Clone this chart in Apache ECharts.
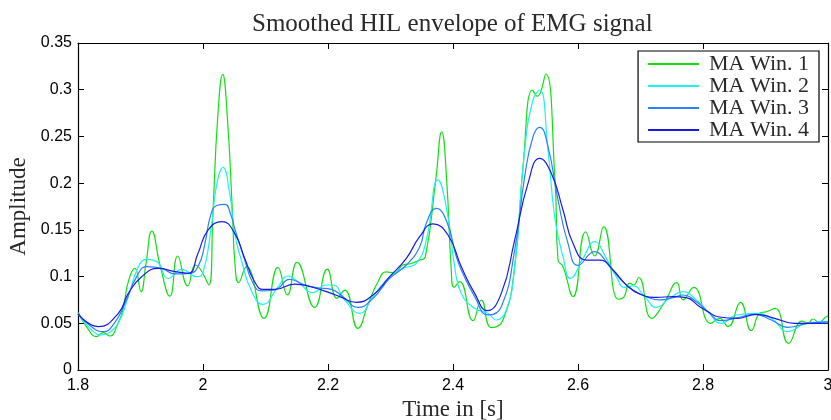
<!DOCTYPE html>
<html>
<head>
<meta charset="utf-8">
<script src="https://cdn.jsdelivr.net/npm/echarts@6/dist/echarts.min.js"></script>
<style>
html,body{margin:0;padding:0;background:#fff;}
#chart{width:831px;height:420px;}
</style>
</head>
<body>
<div id="chart"></div>
<script>
// ---- data ----
const seriesNames = ['MA Win. 1', 'MA Win. 2', 'MA Win. 3', 'MA Win. 4'];
const xTicks = [1.8, 2, 2.2, 2.4, 2.6, 2.8, 3];
const yTicks = [0, 0.05, 0.1, 0.15, 0.2, 0.25, 0.3, 0.35];

const t1 = [1.800,1.814,1.830,1.8405,1.851,1.864,1.872,1.881,1.891,1.9008,1.909,1.918,1.932,1.947,1.9595,1.9755,1.988,2.0095,2.016,2.0235,2.0315,2.039,2.047,2.051,2.057,2.0694,2.0976,2.12,2.135,2.1504,2.1787,2.1988,2.2144,2.2267,2.248,2.264,2.28,2.2933,2.306,2.32,2.333,2.3467,2.3557,2.3723,2.3819,2.3899,2.397,2.4016,2.4107,2.432,2.4453,2.4613,2.48,2.4987,2.512,2.527,2.535,2.5483,2.5632,2.568,2.576,2.592,2.6123,2.6267,2.641,2.664,2.672,2.683,2.689,2.697,2.718,2.738,2.758,2.768,2.785,2.8123,2.8267,2.84,2.86,2.8773,2.8907,2.9013,2.9157,2.937,2.9584,2.968,2.976,2.985,2.997,3.0];
const v1 = [0.062,0.046,0.0357,0.040,0.0364,0.050,0.065,0.096,0.1088,0.0838,0.115,0.1488,0.110,0.079,0.122,0.090,0.1124,0.091,0.170,0.270,0.3165,0.270,0.170,0.115,0.0935,0.1106,0.0553,0.1099,0.0803,0.1152,0.067,0.108,0.0767,0.0856,0.0446,0.070,0.0945,0.105,0.104,0.1124,0.114,0.1177,0.121,0.203,0.255,0.203,0.110,0.0885,0.0946,0.0528,0.0749,0.0453,0.0535,0.1106,0.2176,0.2997,0.293,0.3168,0.203,0.1177,0.1106,0.0785,0.148,0.122,0.1534,0.0757,0.077,0.093,0.091,0.099,0.0553,0.072,0.0935,0.075,0.0885,0.050,0.0553,0.0464,0.0724,0.0421,0.0607,0.0624,0.066,0.0285,0.0524,0.0506,0.0546,0.051,0.057,0.058];

const t2 = [1.800,1.820,1.838,1.850,1.8645,1.8805,1.8965,1.910,1.926,1.9445,1.966,1.990,2.000,2.0133,2.0213,2.032,2.0427,2.0507,2.0613,2.077,2.096,2.120,2.136,2.152,2.176,2.1973,2.208,2.2267,2.2507,2.272,2.2987,2.320,2.3413,2.3573,2.376,2.391,2.4027,2.4133,2.4347,2.456,2.4693,2.4853,2.4987,2.5147,2.528,2.5387,2.552,2.5627,2.576,2.5883,2.608,2.6267,2.6453,2.6613,2.6747,2.688,2.7067,2.7253,2.7467,2.768,2.7893,2.808,2.8293,2.8533,2.8853,2.9093,2.936,2.9627,3.0];
const v2 = [0.060,0.044,0.0375,0.040,0.050,0.0785,0.1106,0.1184,0.116,0.098,0.1077,0.0999,0.104,0.1534,0.196,0.217,0.189,0.146,0.1177,0.0856,0.0703,0.089,0.1006,0.0945,0.0828,0.091,0.091,0.0749,0.0607,0.0785,0.0999,0.1088,0.1142,0.139,0.2034,0.168,0.1106,0.082,0.066,0.0607,0.0535,0.0642,0.1106,0.2355,0.289,0.2997,0.2355,0.164,0.1213,0.098,0.1195,0.1373,0.1195,0.0999,0.0885,0.090,0.0785,0.067,0.0767,0.0838,0.075,0.0624,0.050,0.0589,0.0607,0.0553,0.041,0.0492,0.052];

const t3 = [1.800,1.820,1.8405,1.858,1.8752,1.8939,1.9099,1.9339,1.9552,1.979,1.993,2.003,2.012,2.022,2.035,2.045,2.0507,2.0667,2.080,2.0933,2.1147,2.1387,2.1627,2.184,2.2053,2.224,2.248,2.272,2.2987,2.3253,2.3467,2.3573,2.3733,2.390,2.405,2.4133,2.4347,2.456,2.4773,2.4987,2.5147,2.528,2.5387,2.552,2.568,2.584,2.600,2.6267,2.6453,2.6667,2.688,2.7093,2.7307,2.752,2.768,2.7893,2.808,2.8293,2.8613,2.8827,2.9093,2.936,2.968,3.0];
const v3 = [0.060,0.047,0.041,0.050,0.0714,0.0999,0.1106,0.1088,0.1028,0.1035,0.112,0.135,0.165,0.176,0.1773,0.165,0.1516,0.1177,0.0928,0.0846,0.0856,0.097,0.091,0.088,0.0863,0.0785,0.067,0.0767,0.098,0.1124,0.132,0.157,0.173,0.159,0.122,0.107,0.0785,0.0589,0.0678,0.1284,0.207,0.2497,0.2597,0.239,0.182,0.1356,0.112,0.1266,0.116,0.098,0.0856,0.0785,0.075,0.0774,0.0803,0.0731,0.0624,0.0528,0.057,0.0596,0.0535,0.0457,0.050,0.0515];

const t4 = [1.800,1.8325,1.8645,1.8805,1.9019,1.9285,1.9552,1.9765,1.992,2.008,2.0304,2.0507,2.0667,2.0827,2.096,2.1147,2.1467,2.1733,2.2053,2.2187,2.2453,2.272,2.2987,2.3253,2.3467,2.368,2.392,2.4133,2.4347,2.4549,2.4773,2.4987,2.520,2.5387,2.5573,2.576,2.592,2.6133,2.6347,2.656,2.6773,2.6987,2.7253,2.752,2.7733,2.7947,2.808,2.824,2.856,2.8853,2.9147,2.9467,3.0];
const v4 = [0.060,0.0464,0.0607,0.082,0.0999,0.1088,0.1053,0.1035,0.125,0.1498,0.1588,0.1463,0.1195,0.0945,0.0863,0.0863,0.092,0.089,0.082,0.0785,0.0724,0.0803,0.0999,0.1195,0.1427,0.1563,0.1445,0.1106,0.082,0.0635,0.082,0.139,0.1998,0.2266,0.2105,0.1713,0.1356,0.1177,0.1177,0.107,0.091,0.0813,0.0778,0.0785,0.0774,0.0678,0.0624,0.057,0.0553,0.0596,0.0553,0.050,0.050];

const seriesColors = ['#10e010', '#20f0f0', '#2a80ff', '#1a1ae8'];

// ---- chart ----
const pairs = (t, v) => t.map((x, i) => [x, v[i]]);
const allT = [t1, t2, t3, t4];
const allV = [v1, v2, v3, v4];

const serif = 'Liberation Serif';
const sans = 'Liberation Sans';

const xCommon = {
  type: 'value', min: xTicks[0], max: xTicks[xTicks.length - 1], interval: 0.2,
  axisLine: { show: true, onZero: false, lineStyle: { color: '#000', width: 1.2 } },
  axisTick: { show: true, inside: true, length: 6, lineStyle: { color: '#000', width: 1 } },
  splitLine: { show: false }
};
const yCommon = {
  type: 'value', min: yTicks[0], max: yTicks[yTicks.length - 1], interval: 0.05,
  axisLine: { show: true, onZero: false, lineStyle: { color: '#000', width: 1.2 } },
  axisTick: { show: true, inside: true, length: 6, lineStyle: { color: '#000', width: 1 } },
  splitLine: { show: false }
};

const chart = echarts.init(document.getElementById('chart'), null, { renderer: 'canvas' });
chart.setOption({
  animation: false,
  backgroundColor: '#fff',
  title: {
    text: 'Smoothed HIL envelope of EMG signal',
    left: 252, top: 12, padding: 0,
    textStyle: { fontFamily: serif, fontWeight: 'normal', fontSize: 25, color: '#2a2a2a' }
  },
  grid: { left: 78, right: 3, top: 43, bottom: 50, containLabel: false, outerBoundsMode: 'none' },
  legend: {
    orient: 'vertical', right: 12, top: 51,
    backgroundColor: '#fff', borderColor: '#000', borderWidth: 1.2,
    padding: [2, 10, 1, 10],
    itemWidth: 51, itemHeight: 2, itemGap: 0, icon: 'rect',
    textStyle: { fontFamily: serif, fontSize: 22, color: '#2a2a2a', lineHeight: 20, padding: [0, 0, 0, 5] },
    data: seriesNames
  },
  xAxis: [
    Object.assign({}, xCommon, {
      position: 'bottom',
      axisLabel: { show: true, color: '#000', fontFamily: sans, fontSize: 16, margin: 8,
        formatter: v => String(Math.round(v * 10) / 10) },
      name: 'Time in [s]', nameLocation: 'middle', nameGap: 22,
      nameTextStyle: { fontFamily: serif, fontSize: 23, color: '#2a2a2a' }
    }),
    Object.assign({}, xCommon, { position: 'top', axisLabel: { show: false } })
  ],
  yAxis: [
    Object.assign({}, yCommon, {
      position: 'left',
      axisLabel: { show: true, color: '#000', fontFamily: sans, fontSize: 16, margin: 6,
        formatter: v => String(Math.round(v * 100) / 100) },
      name: 'Amplitude', nameLocation: 'middle', nameGap: 42,
      nameTextStyle: { fontFamily: serif, fontSize: 23, color: '#2a2a2a' }
    }),
    Object.assign({}, yCommon, { position: 'right', axisLabel: { show: false } })
  ],
  series: seriesNames.map((name, i) => ({
    name: name, type: 'line', xAxisIndex: 0, yAxisIndex: 0,
    data: pairs(allT[i], allV[i]),
    smooth: 0.5, showSymbol: false, symbol: 'none',
    color: seriesColors[i],
    lineStyle: { color: seriesColors[i], width: 1.2 },
    z: 2 + i
  }))
});
</script>
</body>
</html>
